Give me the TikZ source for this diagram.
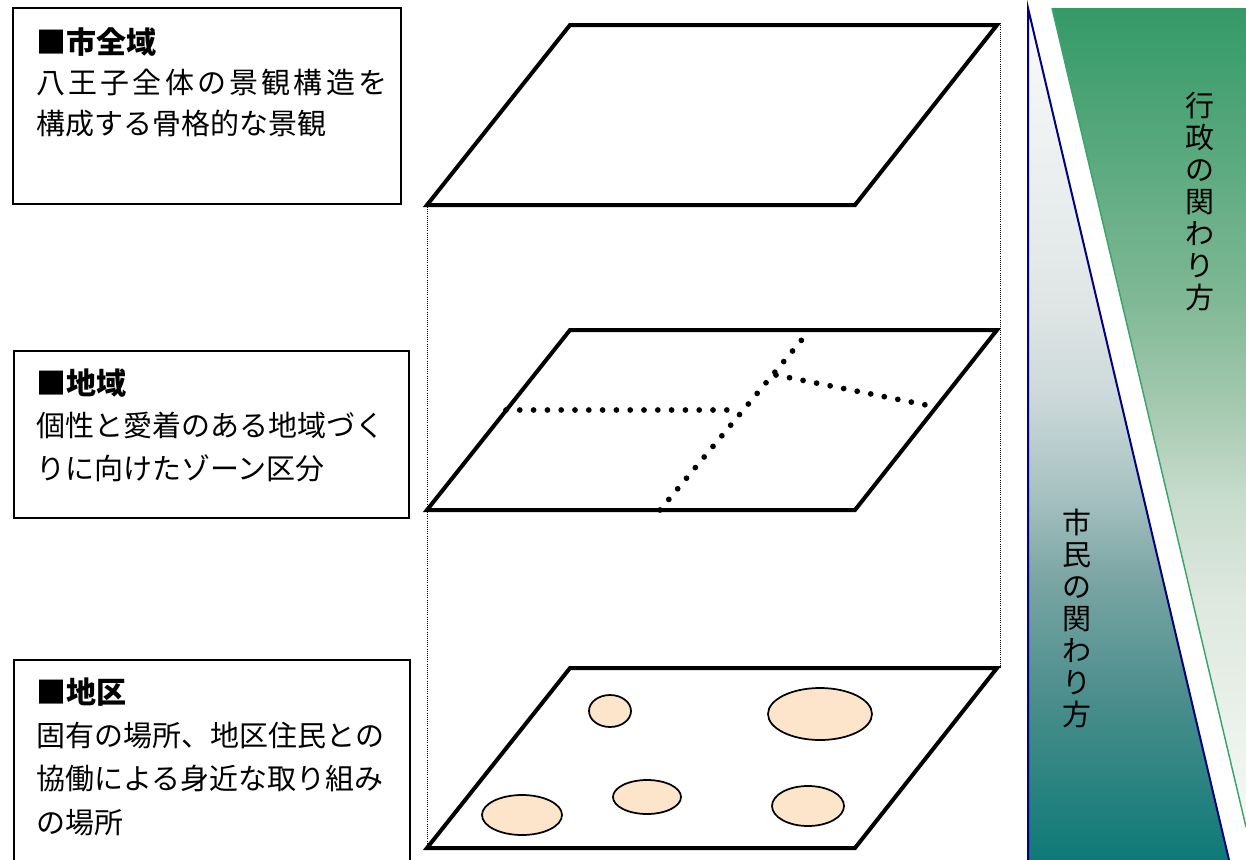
\documentclass[tikz,border=0pt]{standalone}
\usepackage{fontspec}
\newfontfamily\cjk{Noto Sans CJK JP}
\definecolor{spotfill}{RGB}{253,229,204}
\definecolor{navyline}{RGB}{0,0,128}
\definecolor{greenline}{RGB}{58,164,108}
\pgfdeclareverticalshading{citizenshade}{100bp}{rgb(0bp)=(0.055,0.478,0.467); rgb(25bp)=(0.055,0.478,0.467); rgb(34.5bp)=(0.29,0.557,0.549); rgb(41.5bp)=(0.478,0.647,0.643); rgb(46bp)=(0.639,0.749,0.749); rgb(52bp)=(0.796,0.847,0.851); rgb(57.5bp)=(0.875,0.898,0.898); rgb(75bp)=(0.98,0.984,0.984); rgb(100bp)=(0.98,0.984,0.984)}
\pgfdeclareverticalshading{adminshade}{100bp}{rgb(0bp)=(0.965,0.973,0.965); rgb(25bp)=(0.965,0.973,0.965); rgb(39bp)=(0.867,0.91,0.871); rgb(45bp)=(0.784,0.863,0.804); rgb(51bp)=(0.639,0.784,0.682); rgb(57.2bp)=(0.498,0.722,0.584); rgb(75bp)=(0.204,0.604,0.404); rgb(100bp)=(0.204,0.604,0.404)}
\begin{document}
\begin{tikzpicture}[x=0.75pt,y=-0.75pt,
  plane/.style={line width=3pt},
  guide/.style={densely dotted, line width=0.6pt},
  zone/.style={line width=4.3pt, line cap=round, dash pattern=on 0pt off 10.35pt},
  spot/.style={draw=black, line width=1.3pt, fill=spotfill},
  infobox/.style={draw=black, line width=1.2pt},
  titletext/.style={font=\cjk\bfseries\fontsize{22.5pt}{27pt}\selectfont, anchor=base west, inner sep=0pt},
  bodytext/.style={font=\cjk\fontsize{21.75pt}{27pt}\selectfont, anchor=base west, inner sep=0pt},
  vtext/.style={font=\cjk\fontsize{21.75pt}{24pt}\selectfont, align=center, inner sep=0pt}]
\useasboundingbox (0,0) rectangle (1246,860);
\begin{scope}
\clip (0,0) rectangle (1246,860);

% right triangles
\coordinate (ctop) at (1028,8);
\coordinate (cbl) at (1028,860);
\coordinate (cbr) at (1229,860);
\coordinate (atl) at (1052,8);
\coordinate (atr) at (1246,8);
\coordinate (abr) at (1246,827);
\shade[shading=citizenshade] (ctop) -- (cbl) -- (cbr) -- cycle;
\shade[shading=adminshade] (atl) -- (atr) -- (abr) -- cycle;
\draw[navyline, line width=1.5pt] (cbl) -- (ctop) -- (cbr);
\draw[greenline, line width=1.1pt] (atl) -- (abr);
\node[vtext] (admin) at (1200,202) {行\\政\\の\\関\\わ\\り\\方};
\node[vtext] (citizen) at (1077,618) {市\\民\\の\\関\\わ\\り\\方};

% guide lines
\coordinate (gl1) at (427,207);
\coordinate (gl2) at (427,848);
\coordinate (gr1) at (1000,23);
\coordinate (gr2) at (1000,668);
\draw[guide] (gl1) -- (gl2);
\draw[guide] (gr1) -- (gr2);

% planes
\foreach \n/\yy in {p1/0, p2/305, p3/643} {
  \coordinate (\n bl) at (427,205+\yy);
  \coordinate (\n br) at (855,205+\yy);
  \coordinate (\n tr) at (997,25+\yy);
  \coordinate (\n tl) at (570,25+\yy);
  \draw[plane, fill=white] (\n bl) -- (\n br) -- (\n tr) -- (\n tl) -- cycle;
}

% zone lines in plane 2
\coordinate (z1) at (506,410);
\coordinate (z2) at (728,410);
\coordinate (z3) at (660,510);
\coordinate (z4) at (810,330);
\coordinate (z5) at (776,375);
\coordinate (z6) at (926,405);
\draw[zone] (z1) -- (z2);
\draw[zone] (z3) -- (z4);
\draw[zone] (z5) -- (z6);

% spots in plane 3
\draw[spot] (610,711) ellipse [x radius=21, y radius=16];
\draw[spot] (820,714) ellipse [x radius=52, y radius=26];
\draw[spot] (647,797) ellipse [x radius=34, y radius=17];
\draw[spot] (522,815) ellipse [x radius=40, y radius=20];
\draw[spot] (808,806) ellipse [x radius=36, y radius=20];

% info boxes
\draw[infobox] (13,8) rectangle (401,204);
\draw[infobox] (14,351) rectangle (409,518);
\draw[infobox] (14,660) rectangle (410,880);

\node[titletext] (b1t) at (36,53) {■市全域};
\node[bodytext] (b1a) at (36,93) {\makebox[263.25pt][s]{八\hfill 王\hfill 子\hfill 全\hfill 体\hfill の\hfill 景\hfill 観\hfill 構\hfill 造\hfill を}};
\node[bodytext] (b1b) at (36,134) {構成する骨格的な景観};

\node[titletext] (b2t) at (36,394) {■地域};
\node[bodytext] (b2a) at (36,436) {個性と愛着のある地域づく};
\node[bodytext] (b2b) at (36,479) {りに向けたゾーン区分};

\node[titletext] (b3t) at (36,703) {■地区};
\node[bodytext] (b3a) at (36,746) {固有の場所、地区住民との};
\node[bodytext] (b3b) at (36,789) {協働による身近な取り組み};
\node[bodytext] (b3c) at (36,833) {の場所};
\end{scope}
\end{tikzpicture}
\end{document}
